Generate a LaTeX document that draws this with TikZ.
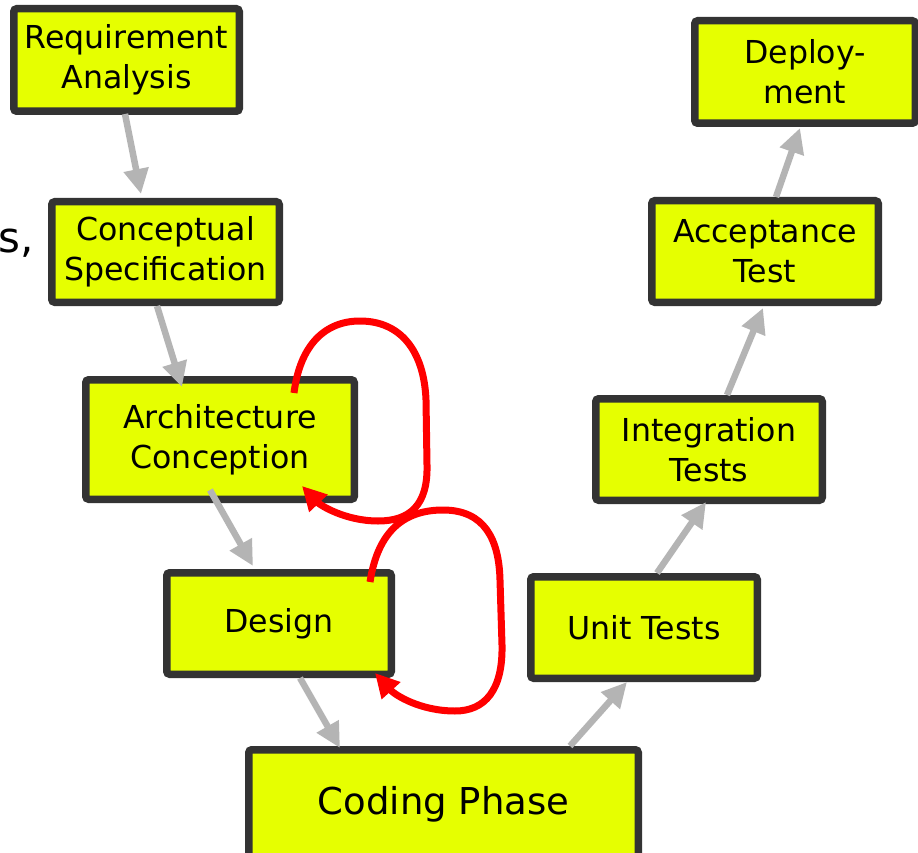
\documentclass[tikz,border=0pt]{standalone}
\usepackage{fontspec}
\setmainfont{DejaVu Sans}
\usetikzlibrary{arrows.meta,calc}
\definecolor{boxfill}{RGB}{230,255,0}
\definecolor{boxline}{RGB}{51,51,51}
\definecolor{arrgray}{RGB}{180,180,180}
\begin{document}
\begin{tikzpicture}[x=1pt,y=-1pt,
  phase/.style={draw=boxline, fill=boxfill, line width=7.5pt, rounded corners=3pt,
    align=center, inner sep=0pt, outer sep=0pt, font=\fontsize{31.6}{40}\selectfont,
    minimum width=#1},
  phase/.default=226pt,
  garrow/.style={draw=arrgray, line width=6.5pt, -{Triangle[length=25pt,width=24pt]}},
  rarrow/.style={draw=red, line width=7pt, -{Triangle[length=24pt,width=24pt]}}
]
\useasboundingbox (0,0) rectangle (918,853);
\fill[white] (0,0) rectangle (918,853);

% partial text at left edge
\node[anchor=base east, inner sep=0pt, font=\fontsize{42}{48}\selectfont] (frag) at (34,252) {s,};

% phase boxes
\node[phase=225.5pt, minimum height=102.5pt] (req) at (126.5,60) {Requirement\\Analysis};
\node[phase=227.5pt, minimum height=100.5pt] (conc) at (165.5,252) {Conceptual\\Specification};
\node[phase=268.5pt, minimum height=119.5pt] (arch) at (220,439.5) {Architecture\\Conception};
\node[phase=224.5pt, minimum height=101.5pt] (des) at (279,623.5) {Design};
\node[phase=389.5pt, minimum height=108.5pt, font=\fontsize{37}{44}\selectfont] (code) at (443.5,804) {Coding Phase};
\node[phase=226.5pt, minimum height=101.5pt] (unit) at (644,627.5) {Unit Tests};
\node[phase=226.5pt, minimum height=101.5pt] (integ) at (709,449.5) {Integration\\Tests};
\node[phase=226.5pt, minimum height=101.5pt] (acc) at (765,251.5) {Acceptance\\Test};
\node[phase=220.5pt, minimum height=102.5pt] (dep) at (805,72) {Deploy-\\ment};

% gray flow arrows
\draw[garrow] ($(req)+(-1.5,54)$) -- ($(conc)+(-24.5,-58)$);
\draw[garrow] ($(conc)+(-8.5,54)$) -- ($(arch)+(-38,-52.5)$);
\draw[garrow] ($(arch)+(-10,50.5)$) -- ($(des)+(-26,-57.5)$);
\draw[garrow] ($(des)+(21,54.5)$) -- ($(code)+(-103.5,-56)$);
\draw[garrow] ($(code)+(126.5,-58)$) -- ($(unit)+(-17,54.5)$);
\draw[garrow] ($(unit)+(13,-54.5)$) -- ($(integ)+(-3,52.5)$);
\draw[garrow] ($(integ)+(18,-54.5)$) -- ($(acc)+(-2,56.5)$);
\draw[garrow] ($(acc)+(11,-54.5)$) -- ($(dep)+(-5,56)$);

% red iteration loops
\draw[rarrow] ($(arch)+(74,-46.5)$) .. controls (300,345) and (325,321) .. (360,321)
  .. controls (400,321) and (424,350) .. (426,400)
  -- (427,465)
  .. controls (428,505) and (410,521) .. (378,521)
  .. controls (345,521) and (320,505) .. ($(arch)+(82,46.5)$);
\draw[rarrow] ($(des)+(91,-41.5)$) .. controls (378,530) and (405,510) .. (443,510)
  .. controls (485,510) and (499,540) .. (500,580)
  -- (502,645)
  .. controls (503,690) and (485,711) .. (455,711)
  .. controls (420,711) and (395,695) .. ($(des)+(96,49.5)$);
\end{tikzpicture}
\end{document}
